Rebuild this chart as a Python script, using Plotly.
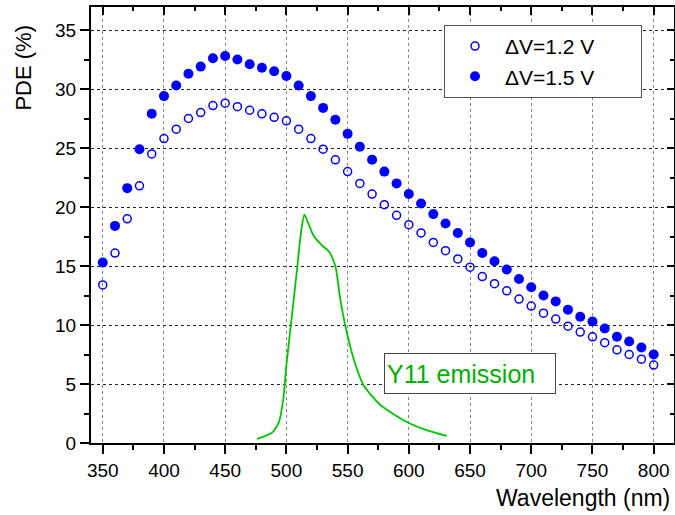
import plotly.graph_objects as go

# ---- data ----
wavelength = list(range(350, 801, 10))

pde_12V = [13.4, 16.1, 19.0, 21.8, 24.5, 25.8, 26.6, 27.5, 28.0, 28.6,
           28.8, 28.5, 28.2, 27.9, 27.6, 27.3, 26.6, 25.8, 24.9, 24.0,
           23.0, 22.0, 21.1, 20.2, 19.3, 18.5, 17.8, 17.0, 16.3, 15.6,
           14.9, 14.1, 13.5, 12.9, 12.2, 11.6, 11.0, 10.5, 9.9, 9.4,
           9.0, 8.5, 7.9, 7.5, 7.1, 6.6]

pde_15V = [15.3, 18.4, 21.6, 24.9, 27.9, 29.4, 30.3, 31.3, 31.9, 32.6,
           32.8, 32.5, 32.1, 31.8, 31.5, 31.1, 30.3, 29.4, 28.4, 27.4,
           26.2, 25.1, 24.0, 23.0, 22.0, 21.1, 20.3, 19.4, 18.6, 17.8,
           17.0, 16.1, 15.4, 14.7, 13.9, 13.2, 12.5, 12.0, 11.3, 10.7,
           10.3, 9.7, 9.0, 8.6, 8.1, 7.5]

y11_wavelength = [476, 483, 489, 494, 497.5, 500, 503, 506, 509, 512, 514.7,
                  518, 522, 529, 535, 540, 544, 548, 555, 563, 577, 598, 615, 631]
y11_emission = [0.35, 0.6, 0.95, 1.8, 3.75, 6.6, 9.4, 12.2, 15.0, 17.9, 19.35,
                18.6, 17.6, 16.75, 16.2, 15.0, 12.2, 10.0, 7.1, 4.9, 3.2, 1.8, 1.07, 0.6]

x_ticks = list(range(350, 801, 50))
y_ticks = list(range(0, 36, 5))

legend_names = ["ΔV=1.2 V", "ΔV=1.5 V"]

FONT = "Liberation Sans, Arial, Helvetica, sans-serif"
BLUE = "#0000FF"
GREEN = "#00C800"
PAD = "\u00a0" * 7

fig = go.Figure()

fig.add_trace(go.Scatter(
    x=y11_wavelength, y=y11_emission, mode="lines",
    line=dict(color=GREEN, width=1.8, shape="spline", smoothing=0.6),
    showlegend=False, hoverinfo="skip"))

fig.add_trace(go.Scatter(
    x=wavelength, y=pde_12V, mode="markers", name=legend_names[0] + PAD,
    marker=dict(symbol="circle-open", size=8, color=BLUE, line=dict(width=1.5, color=BLUE))))

fig.add_trace(go.Scatter(
    x=wavelength, y=pde_15V, mode="markers", name=legend_names[1] + PAD,
    marker=dict(symbol="circle", size=10, color=BLUE)))

fig.update_layout(
    width=675, height=515,
    margin=dict(l=91, r=1, t=7, b=72),
    paper_bgcolor="white", plot_bgcolor="white",
    font=dict(family=FONT, color="black"),
    showlegend=True,
    legend=dict(
        x=0.6055, y=0.959, xanchor="left", yanchor="top",
        bgcolor="white", bordercolor="#555555", borderwidth=1,
        font=dict(size=21, family=FONT, color="black"),
        itemwidth=50, tracegroupgap=0,
    ),
    xaxis=dict(
        range=[340.4, 816.6], tickvals=x_ticks, ticktext=[str(v) for v in x_ticks],
        ticks="outside", ticklen=9, tickwidth=2, tickcolor="black",
        showline=True, linewidth=2, linecolor="black",
        showgrid=True, gridcolor="#888888", gridwidth=1, griddash="dot",
        zeroline=False,
        tickfont=dict(size=19, family=FONT),
        minor=dict(dtick=25, tick0=350, ticks="outside", ticklen=5, tickwidth=2,
                   tickcolor="black", showgrid=False),
    ),
    xaxis2=dict(
        overlaying="x", matches="x", side="top", anchor="y",
        range=[340.4, 816.6], tickvals=x_ticks,
        ticks="inside", ticklen=8, tickwidth=2, tickcolor="black",
        showticklabels=False, showline=True, linewidth=2, linecolor="black",
        showgrid=False, zeroline=False,
        minor=dict(dtick=25, tick0=350, ticks="inside", ticklen=4, tickwidth=2,
                   tickcolor="black", showgrid=False),
    ),
    yaxis=dict(
        range=[0, 36.95], tickvals=y_ticks, ticktext=[str(v) for v in y_ticks],
        ticks="outside", ticklen=9, tickwidth=2, tickcolor="black",
        showline=True, linewidth=2, linecolor="black",
        showgrid=True, gridcolor="#222222", gridwidth=1, griddash="dot",
        zeroline=False,
        tickfont=dict(size=19, family=FONT),
        minor=dict(dtick=2.5, tick0=0, ticks="outside", ticklen=5, tickwidth=2,
                   tickcolor="black", showgrid=False),
    ),
    yaxis2=dict(
        overlaying="y", matches="y", side="right", anchor="x",
        range=[0, 36.95], tickvals=y_ticks,
        ticks="inside", ticklen=7, tickwidth=2, tickcolor="black",
        showticklabels=False, showline=True, linewidth=2, linecolor="black",
        showgrid=False, zeroline=False,
        minor=dict(dtick=2.5, tick0=0, ticks="inside", ticklen=4, tickwidth=2,
                   tickcolor="black", showgrid=False),
    ),
)

# invisible trace to activate the mirror axes
fig.add_trace(go.Scatter(x=[wavelength[0]], y=[pde_12V[0]], xaxis="x2", yaxis="y2",
                         mode="markers", marker=dict(opacity=0), showlegend=False,
                         hoverinfo="skip"))

fig.add_annotation(
    text="Y11 emission", xref="x", yref="y", x=650, y=5.9,
    xanchor="center", yanchor="middle", showarrow=False,
    font=dict(size=25, family=FONT, color="#00B000"),
    bgcolor="white", bordercolor="#444444", borderwidth=1, borderpad=2,
    width=166, height=35, align="left")

fig.add_annotation(
    text="Wavelength (nm)", xref="paper", yref="paper", x=0.9966, y=-0.125,
    xanchor="right", yanchor="middle", showarrow=False,
    font=dict(size=23, family=FONT, color="black"))

fig.add_annotation(
    text="PDE (%)", xref="paper", yref="paper", x=-0.115, y=0.861,
    xanchor="center", yanchor="middle", showarrow=False, textangle=-90,
    font=dict(size=22, family=FONT, color="black"))

fig.write_html("out.html", config={"displayModeBar": False},
               post_script="document.body.style.margin='0px';")
